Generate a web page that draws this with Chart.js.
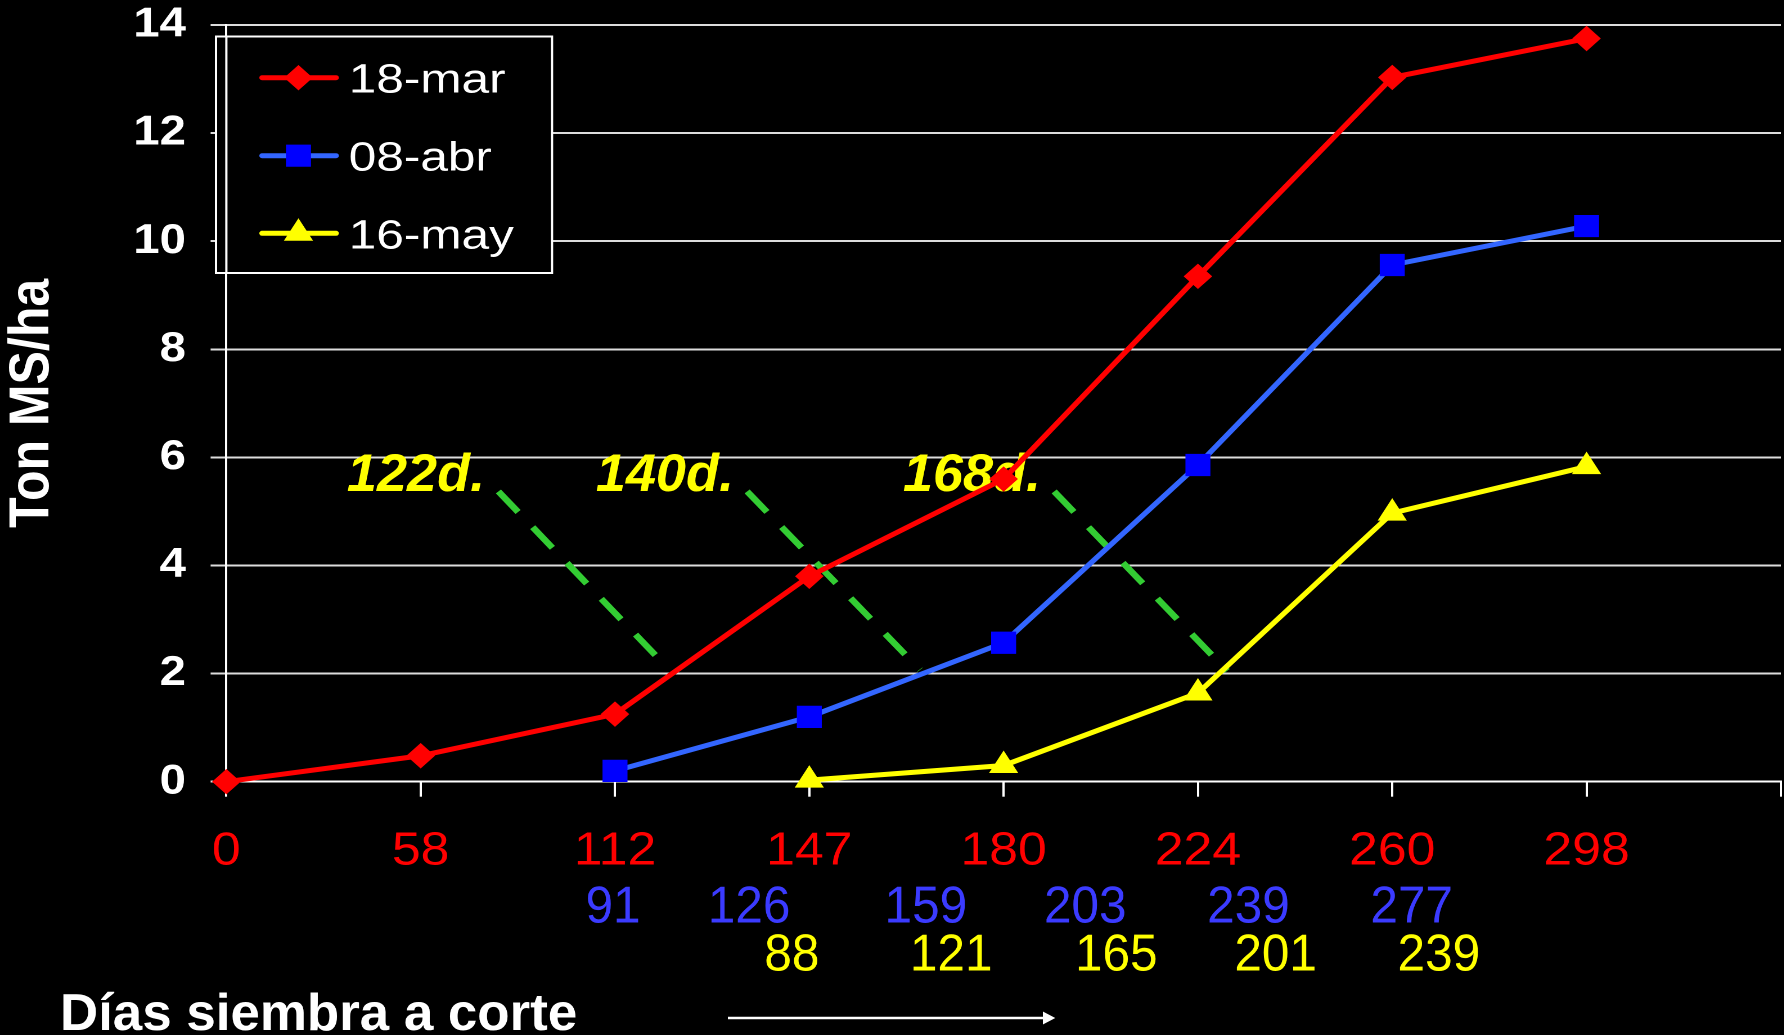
<!DOCTYPE html>
<html><head><meta charset="utf-8">
<script src="https://cdn.jsdelivr.net/npm/chart.js@4.4.1/dist/chart.umd.min.js"></script>
<style>
html,body{margin:0;padding:0;background:#000;overflow:hidden;width:1784px;height:1035px;}
#wrap{position:absolute;left:0;top:0;width:1586px;height:1035px;transform:scaleX(1.125);transform-origin:0 0;}
canvas{display:block;}
</style></head><body>
<div id="wrap"><canvas id="c" width="1586" height="1035" style="width:1586px;height:1035px"></canvas></div>
<script>
// ---------- data ----------
const seriesNames = ['18-mar', '08-abr', '16-may'];
const daysMar = ['0', '58', '112', '147', '180', '224', '260', '298'];
const daysAbr = ['91', '126', '159', '203', '239', '277'];
const daysAbrPos = [1.99, 2.69, 3.60, 4.42, 5.26, 6.10];
const daysMay = ['88', '121', '165', '201', '239'];
const daysMayPos = [2.91, 3.73, 4.58, 5.40, 6.24];
const mar18 = [0, 0.48, 1.25, 3.8, 5.6, 9.35, 13.03, 13.75];
const abr08 = [null, null, 0.2, 1.2, 2.57, 5.86, 9.56, 10.28];
const may16 = [null, null, null, 0.03, 0.3, 1.64, 4.97, 5.83];
const cycleLabels = ['122d.', '140d.', '168d.'];
const cycleLabelX = [0.976, 2.257, 3.837];
const cycleLabelY = [5.38, 5.38, 5.38];
const cycleStartX = [1.40, 2.68, 4.26];
const cycleStartY = [5.37, 5.37, 5.37];
const cycleEndX = [2.28, 3.57, 5.15];
const cycleEndY = [2.07, 2.07, 2.05];
const yAxisTitle = 'Ton MS/ha';
const xAxisTitle = 'Días siembra a corte';

const FF = '"Liberation Sans", Arial, Helvetica, sans-serif';
const toPts = arr => arr.map((v, i) => ({x: i, y: v}));

const datasets = [
  {label: seriesNames[0], data: toPts(mar18), borderColor: '#ff0000', backgroundColor: '#ff0000',
   pointStyle: 'rectRot', pointRadius: 12, pointBorderColor: '#ff0000', pointBackgroundColor: '#ff0000', borderWidth: 5},
  {label: seriesNames[1], data: toPts(abr08), borderColor: '#3366ff', backgroundColor: '#0000ff',
   pointStyle: 'rect', pointRadius: 15, pointBorderColor: '#0000ff', pointBackgroundColor: '#0000ff', borderWidth: 5},
  {label: seriesNames[2], data: toPts(may16), borderColor: '#ffff00', backgroundColor: '#ffff00',
   pointStyle: 'triangle', pointRadius: 14, pointBorderColor: '#ffff00', pointBackgroundColor: '#ffff00', borderWidth: 5}
];
datasets.forEach(d => { d.pointBorderWidth = 1; d.clip = false; d.tension = 0; d.pointHoverRadius = d.pointRadius; });
cycleStartX.forEach((sx, i) => {
  datasets.push({label: '_cycle' + i, data: [{x: sx, y: cycleStartY[i]}, {x: cycleEndX[i], y: cycleEndY[i]}],
    borderColor: '#33cc33', borderWidth: 6, borderDash: [27, 20], pointRadius: 0, clip: false});
});

function stretchedText(ctx, t, x, y, sy) {
  ctx.save(); ctx.translate(x, y); ctx.scale(1, sy); ctx.fillText(t, 0, 0); ctx.restore();
}

const deco = {
  id: 'deco',
  beforeDatasetsDraw(chart) {
    const {ctx, scales: {x, y}} = chart;
    ctx.save();
    ctx.fillStyle = '#ffff00';
    ctx.font = 'italic bold 48px ' + FF;
    ctx.textAlign = 'center'; ctx.textBaseline = 'alphabetic';
    cycleLabels.forEach((t, i) => stretchedText(ctx, t, x.getPixelForValue(cycleLabelX[i]), y.getPixelForValue(cycleLabelY[i]), 1.1));
    ctx.restore();
  },
  afterDatasetsDraw(chart) {
    const {ctx, chartArea} = chart;
    ctx.save();
    const bx = 192, by = 36.5, bw = 298.7, bh = 236.5;
    ctx.fillStyle = '#000'; ctx.fillRect(bx, by, bw, bh);
    ctx.strokeStyle = '#ffffff'; ctx.lineWidth = 2; ctx.strokeRect(bx, by, bw, bh);
    ctx.beginPath(); ctx.moveTo(chartArea.left, by - 1); ctx.lineTo(chartArea.left, by + bh + 1);
    ctx.strokeStyle = '#ffffff'; ctx.lineWidth = 2; ctx.stroke();
    const rowsY = [77.7, 155.7, 233.3];
    for (let i = 0; i < 3; i++) {
      const ds = chart.data.datasets[i];
      const cy = rowsY[i];
      ctx.beginPath(); ctx.moveTo(233, cy); ctx.lineTo(298.7, cy);
      ctx.strokeStyle = ds.borderColor; ctx.lineWidth = 5; ctx.lineCap = 'round'; ctx.stroke();
      ctx.fillStyle = ds.pointBackgroundColor; ctx.strokeStyle = ds.pointBorderColor; ctx.lineWidth = 1;
      Chart.helpers.drawPoint(ctx, {pointStyle: ds.pointStyle, radius: ds.pointRadius, rotation: 0, borderWidth: 1}, 265.3, cy);
      ctx.fillStyle = '#ffffff'; ctx.font = '44px ' + FF; ctx.textAlign = 'left'; ctx.textBaseline = 'alphabetic';
      stretchedText(ctx, ds.label, 310, cy + 15, 0.92);
    }
    ctx.restore();
  },
  afterDraw(chart) {
    const {ctx, scales: {x}} = chart;
    ctx.save();
    ctx.textAlign = 'center'; ctx.textBaseline = 'alphabetic';
    ctx.font = '44px ' + FF;
    ctx.fillStyle = '#3b3bff';
    daysAbr.forEach((t, i) => stretchedText(ctx, t, x.getPixelForValue(daysAbrPos[i]), 922.7, 1.18));
    ctx.fillStyle = '#ffff00';
    daysMay.forEach((t, i) => stretchedText(ctx, t, x.getPixelForValue(daysMayPos[i]), 970.7, 1.18));
    ctx.textAlign = 'left'; ctx.fillStyle = '#ffffff';
    ctx.font = 'bold 47px ' + FF;
    stretchedText(ctx, xAxisTitle, 53.3, 1030, 1.1);
    ctx.strokeStyle = '#ffffff'; ctx.lineWidth = 2.5;
    ctx.beginPath(); ctx.moveTo(647, 1018); ctx.lineTo(929, 1018); ctx.stroke();
    ctx.fillStyle = '#ffffff';
    ctx.beginPath(); ctx.moveTo(938, 1018); ctx.lineTo(927, 1011.5); ctx.lineTo(927, 1024.5); ctx.closePath(); ctx.fill();
    ctx.restore();
  }
};

new Chart(document.getElementById('c'), {
  type: 'line',
  data: {datasets},
  options: {
    responsive: false,
    devicePixelRatio: 2,
    animation: false,
    events: [],
    layout: {autoPadding: false, padding: {left: 0, top: 25, right: 3, bottom: 0}},
    plugins: {legend: {display: false}, tooltip: {enabled: false}},
    scales: {
      x: {
        type: 'linear', min: 0, max: 8,
        afterFit(s) { s.height = 1035 - 781.7; s.paddingLeft = 0; s.paddingRight = 0; },
        grid: {display: true, drawOnChartArea: false, drawTicks: true, tickLength: 15, color: '#ffffff', lineWidth: 2},
        border: {display: true, color: '#ffffff', width: 2},
        ticks: {stepSize: 1, autoSkip: false, maxRotation: 0, color: '#ff0000', padding: 32,
          font: {size: 46, family: FF, lineHeight: 1},
          callback: v => (Number.isInteger(v) && daysMar[v] !== undefined) ? daysMar[v] : ''}
      },
      y: {
        min: 0, max: 14,
        afterFit(s) { s.width = 201.2; s.paddingTop = 0; s.paddingBottom = 0; },
        grid: {color: '#dcdcdc', lineWidth: 2, drawTicks: true, tickLength: 14},
        border: {display: true, color: '#ffffff', width: 2},
        ticks: {stepSize: 2, color: '#ffffff', padding: 22, font: {size: 42, weight: 'bold', family: FF, lineHeight: 1}},
        title: {display: true, text: yAxisTitle, color: '#ffffff', padding: {top: 4, bottom: 0},
          font: {size: 50, weight: 'bold', family: FF, lineHeight: 1}}
      }
    }
  },
  plugins: [deco]
});
</script>
</body></html>
